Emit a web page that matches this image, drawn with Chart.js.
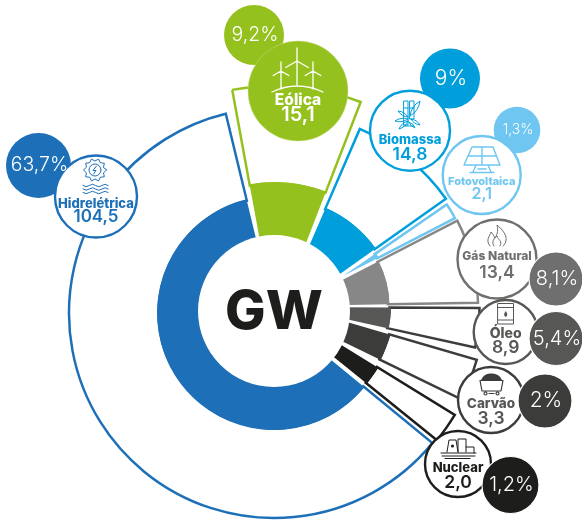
<!DOCTYPE html>
<html>
<head>
<meta charset="utf-8">
<script src="https://cdn.jsdelivr.net/npm/chart.js@4"></script>
<style>
  html,body{margin:0;padding:0;background:#fff;}
  canvas{display:block;}
</style>
</head>
<body>
<canvas id="chart" width="582" height="520"></canvas>
<script>
/* valores */
const fontes   = ["Hidrelétrica","Eólica","Biomassa","Fotovoltaica","Gás Natural","Óleo","Carvão","Nuclear"];
const potencia = ["104,5","15,1","14,8","2,1","13,4","8,9","3,3","2,0"];
const percent  = ["63,7%","9,2%","9%","1,3%","8,1%","5,4%","2%","1,2%"];
// ângulos desenhados de cada fatia, em graus a partir do topo (o original não é proporcional)
const anguloIni = [129.4,349.6,23.4,55.4,62.7,90.3,106.3,121.7];
const anguloFim = [346.4,21.2,54.6,62.7,89,102.4,116,128.9];

const corFatia = ["#1d70b7","#95c11f","#009fdb","#6ec6f1","#878787","#575756","#3c3c3b","#1d1d1b"];
const corLinha = ["#1d70b7","#95c11f","#009fdb","#6ec6f1","#878787","#3c3c3b","#3c3c3b","#1d1d1b"];
const corBolha = ["#1d70b7","#95c11f","#009fdb","#6ec6f1","#706f6f","#575756","#3c3c3b","#1d1d1b"];
const corTexto = ["#1d70b7","#ffffff","#009fdb","#6ec6f1","#6f6f6e","#575756","#575756","#1d1d1b"];
const corAro   = ["#1d70b7","#95c11f","#009fdb","#6ec6f1","#6f6f6e","#575756","#3c3c3b","#1d1d1b"];

// cada fatia abre de um vértice próprio, como no original
const vertice   = [[274,313],[275,323],[278,318],[343,276],[292,306],[291,307],[236,289.5],[245.5,285.7]];
const raioFatia = [117,141,120,40,97.5,100,161,156];
const raioAro   = [205,237,206,126,186,188.5,250.8,246];
const RAIO_MIOLO = 76;

// [cx, cy, r] dos círculos
const circRotulo = [[96,196.5,41],[298,91,50],[410,130.7,40],[481.7,175,39],[497,259,39.5],[505.7,332,32],[491,400,33],[458,464,33]];
const circPct    = [[38.5,165.5,32.5],[254,35,30],[450,78.5,30],[517,130,23.3],[556,279,27],[556,338.5,27],[545,401,27],[510.5,485,28.5]];
const pctPorCima = [false,false,false,false,true,true,true,true];
// [yNome, tamNome, yValor, tamValor]
const txtRotulo  = [[204,13,217,17],[100.7,15.5,115,20],[140,13,155,17.5],[182,11,194.5,16],[256.7,12,273,17.5],[334,14,347.5,17.5],[404,13.5,419,17.5],[468,13,483,17.5]];
const tamPct     = [19.5,19.5,21,14,20,20,21,20];

const FONTE = "Inter, 'Open Sans', sans-serif";

// fatias alternadas com os intervalos em branco entre elas
const aberturas = [];
anguloIni.forEach((ini,i)=>{
  aberturas.push((anguloFim[i]-ini+360)%360);
  const prox = anguloIni[(i+1)%anguloIni.length];
  aberturas.push((prox-anguloFim[i]+360)%360);
});
const alternar = (arr,vazio) => arr.flatMap(v=>[v,vazio]);

function linhas(ctx, cor, lw, fn){
  ctx.save();
  ctx.strokeStyle = cor; ctx.fillStyle = cor; ctx.lineWidth = lw;
  ctx.lineCap = "round"; ctx.lineJoin = "round";
  ctx.beginPath(); fn(ctx); ctx.stroke();
  ctx.restore();
}

function turbina(c, x, y, h, b){
  c.moveTo(x,y); c.lineTo(x,y+h);
  c.moveTo(x,y); c.lineTo(x,y-b);
  c.moveTo(x,y); c.lineTo(x-b*0.87,y+b*0.5);
  c.moveTo(x,y); c.lineTo(x+b*0.87,y+b*0.5);
}

const icones = [
  // hidrelétrica
  ctx => {
    const x=95, y=170;
    linhas(ctx,corLinha[0],1,c=>{
      for(let i=0;i<10;i++){
        const a0=i*Math.PI/5, a1=a0+Math.PI/10;
        c.lineTo(x+Math.cos(a0)*11.5,y+Math.sin(a0)*11.5);
        c.lineTo(x+Math.cos(a1)*9,y+Math.sin(a1)*9);
      }
      c.closePath();
      c.moveTo(x+6,y); c.arc(x,y,6,0,Math.PI*2);
      c.moveTo(x+1.5,y-4); c.lineTo(x-2,y+.5); c.lineTo(x+1,y+.5); c.lineTo(x-1.5,y+4);
      [185.5,189,192.5].forEach(w=>{
        c.moveTo(83,w);
        for(let k=0;k<4;k++) c.quadraticCurveTo(86.2+k*6.3,w+(k%2?-2.5:2.5),89.3+k*6.3,w);
      });
    });
  },
  // eólica
  ctx => {
    linhas(ctx,"#fff",1.3,c=>{
      turbina(c,297,61,25,13);
      turbina(c,281,71,18,9);
      turbina(c,313,71,18,9);
      c.moveTo(272,92); c.quadraticCurveTo(297,80,323,92);
    });
  },
  // biomassa
  ctx => {
    linhas(ctx,corLinha[2],1,c=>{
      c.rect(404,101,4,24); c.rect(410,101,4,18);
      c.moveTo(404,108); c.lineTo(408,108); c.moveTo(410,108); c.lineTo(414,108);
      const folha=(x,y,dx,dy)=>{ c.moveTo(x,y); c.quadraticCurveTo(x+dx*.5-dy*.25,y+dy*.5+dx*.25,x+dx,y+dy); c.quadraticCurveTo(x+dx*.5+dy*.25,y+dy*.5-dx*.25,x,y); };
      folha(408,117,-10,-6); folha(408,119,-13,2); folha(408,121,-9,8);
      folha(410,116,10,-15); folha(411,119,9,6); folha(409,122,6,6);
      c.moveTo(403,126); c.lineTo(414,126);
    });
  },
  // fotovoltaica
  ctx => {
    linhas(ctx,corLinha[3],1.4,c=>{
      c.moveTo(472,147); c.lineTo(493,147); c.lineTo(500,165); c.lineTo(464,165); c.closePath();
      c.moveTo(468,156); c.lineTo(496,156);
      c.moveTo(482,147); c.lineTo(482,165);
      c.moveTo(476,165); c.lineTo(473,172);
      c.moveTo(488,165); c.lineTo(491,172);
      c.moveTo(470,172.5); c.lineTo(494,172.5);
      c.moveTo(478,169); c.lineTo(486,169);
    });
  },
  // gás natural
  ctx => {
    linhas(ctx,corTexto[4],1,c=>{
      c.moveTo(490,246);
      c.bezierCurveTo(485,240,490,236,491,232);
      c.bezierCurveTo(494,235,494,237,495,238);
      c.bezierCurveTo(498,234,498,229,497,225);
      c.bezierCurveTo(503,230,507,236,506,240);
      c.bezierCurveTo(506,243,504,245,503,246);
      c.moveTo(494,246);
      c.bezierCurveTo(491,242,494,238,497,236);
      c.bezierCurveTo(498,240,503,241,500,246);
    });
  },
  // óleo
  ctx => {
    linhas(ctx,corTexto[5],1,c=>{
      c.rect(498,303.5,15.5,20.5);
      c.moveTo(498,307.5); c.lineTo(513.5,307.5);
      c.moveTo(498,320); c.lineTo(513.5,320);
    });
    ctx.save(); ctx.fillStyle=corTexto[5]; ctx.beginPath();
    ctx.moveTo(505.7,311); ctx.quadraticCurveTo(509,315,505.7,317); ctx.quadraticCurveTo(502.5,315,505.7,311); ctx.fill(); ctx.restore();
  },
  // carvão
  ctx => {
    ctx.save(); ctx.fillStyle=corAro[6]; ctx.beginPath();
    ctx.moveTo(481,380); ctx.quadraticCurveTo(484,373,491,373.5); ctx.quadraticCurveTo(499,373,502,380); ctx.closePath(); ctx.fill(); ctx.restore();
    linhas(ctx,corAro[6],1.2,c=>{
      c.moveTo(480,380.5); c.lineTo(503,380.5); c.lineTo(501,391); c.lineTo(482,391); c.closePath();
      c.moveTo(487,393.5); c.arc(485.5,393.5,1.5,0,Math.PI*2);
      c.moveTo(499,393.5); c.arc(497.5,393.5,1.5,0,Math.PI*2);
      c.moveTo(489,393.5); c.lineTo(494,393.5);
    });
  },
  // nuclear
  ctx => {
    linhas(ctx,corAro[7],1,c=>{
      c.moveTo(447,452); c.lineTo(449,440); c.lineTo(456,440); c.lineTo(458,452);
      c.moveTo(458,452); c.lineTo(458,439); c.lineTo(466,439); c.lineTo(466,452);
      c.moveTo(441,453); c.lineTo(476,453);
      c.moveTo(442,456); c.lineTo(475,456);
      c.moveTo(466,447); c.lineTo(474,447); c.lineTo(474,453);
      c.moveTo(445,458.5); c.lineTo(470,458.5);
    });
    ctx.save(); ctx.fillStyle=corAro[7]; ctx.beginPath();
    ctx.arc(452.5,446,1.6,0,Math.PI*2); ctx.fill(); ctx.restore();
  }
];

// vértice e raios próprios por fatia: o doughnut só calcula os ângulos
const geometria = {
  id:"geometria",
  afterDatasetsUpdate(chart){
    chart.getDatasetMeta(0).data.forEach((arc,j)=>{
      const i=j/2;
      if(j%2) return;
      arc.x=vertice[i][0]; arc.y=vertice[i][1];
      arc.innerRadius=0; arc.outerRadius=raioFatia[i];
    });
    chart.getDatasetMeta(1).data.forEach((arc,j)=>{
      const i=j/2;
      if(j%2) return;
      arc.x=vertice[i][0]; arc.y=vertice[i][1];
      arc.innerRadius=Math.max(raioFatia[i]-1.5,1); arc.outerRadius=raioAro[i];
    });
  },
  afterDatasetsDraw(chart){
    const {ctx,chartArea:a}=chart;
    ctx.save();
    ctx.fillStyle="#fff";
    ctx.beginPath(); ctx.arc((a.left+a.right)/2,(a.top+a.bottom)/2,RAIO_MIOLO,0,Math.PI*2); ctx.fill();
    ctx.restore();
  }
};

function bolhaPct(ctx,i){
  const [x,y,r]=circPct[i];
  ctx.beginPath(); ctx.arc(x,y,r,0,Math.PI*2);
  ctx.fillStyle=corBolha[i]; ctx.fill();
  if(pctPorCima[i]){ ctx.lineWidth=1.2; ctx.strokeStyle="#fff"; ctx.stroke(); }
}

const bolhas = {
  id:"bolhas",
  afterDraw(chart){
    const ctx = chart.ctx;
    const area = chart.chartArea;
    ctx.save();
    ctx.textAlign="center"; ctx.textBaseline="middle";
    fontes.forEach((_,i)=>{ if(!pctPorCima[i]) bolhaPct(ctx,i); });
    fontes.forEach((nome,i)=>{
      const [x,y,r]=circRotulo[i];
      ctx.beginPath(); ctx.arc(x,y,r,0,Math.PI*2);
      ctx.fillStyle = i==1 ? corFatia[1] : "#fff";
      ctx.fill();
      ctx.lineWidth = i==1 ? .5 : 2.4;
      ctx.strokeStyle = i==1 ? "#c5dc7d" : corAro[i];
      ctx.stroke();
      icones[i](ctx);
      const [yn,tn,yv,tv]=txtRotulo[i];
      ctx.fillStyle=corTexto[i];
      ctx.font=`800 ${tn}px ${FONTE}`;
      ctx.fillText(nome,x,yn);
      ctx.font=`600 ${tv}px ${FONTE}`;
      ctx.fillText(potencia[i],x,yv);
    });
    fontes.forEach((_,i)=>{ if(pctPorCima[i]) bolhaPct(ctx,i); });
    ctx.fillStyle="#fff";
    percent.forEach((p,i)=>{
      const [x,y]=circPct[i];
      ctx.font=`300 ${tamPct[i]}px ${FONTE}`;
      ctx.fillText(p,x+1,y);
    });
    ctx.fillStyle="#1d1d1b";
    ctx.font=`800 54px ${FONTE}`;
    ctx.fillText("GW",(area.left+area.right)/2,(area.top+area.bottom)/2+2);
    ctx.restore();
  }
};

new Chart(document.getElementById("chart"),{
  type:"doughnut",
  data:{
    labels:alternar(fontes,""),
    datasets:[
      { data:aberturas, backgroundColor:alternar(corFatia,"rgba(0,0,0,0)"), borderWidth:0 },
      { data:aberturas, backgroundColor:alternar(fontes.map(()=>"#fff"),"rgba(0,0,0,0)"),
        borderColor:alternar(corLinha,"rgba(0,0,0,0)"), borderWidth:alternar(fontes.map(()=>2.5),0), borderJoinStyle:"miter" },
    ],
  },
  options:{
    responsive:false, animation:false, events:[],
    rotation:anguloIni[0],
    layout:{ padding:{ left:0, right:34, top:102, bottom:0 } },
    plugins:{ legend:{display:false}, tooltip:{enabled:false} },
  },
  plugins:[geometria,bolhas],
});
</script>
</body>
</html>
